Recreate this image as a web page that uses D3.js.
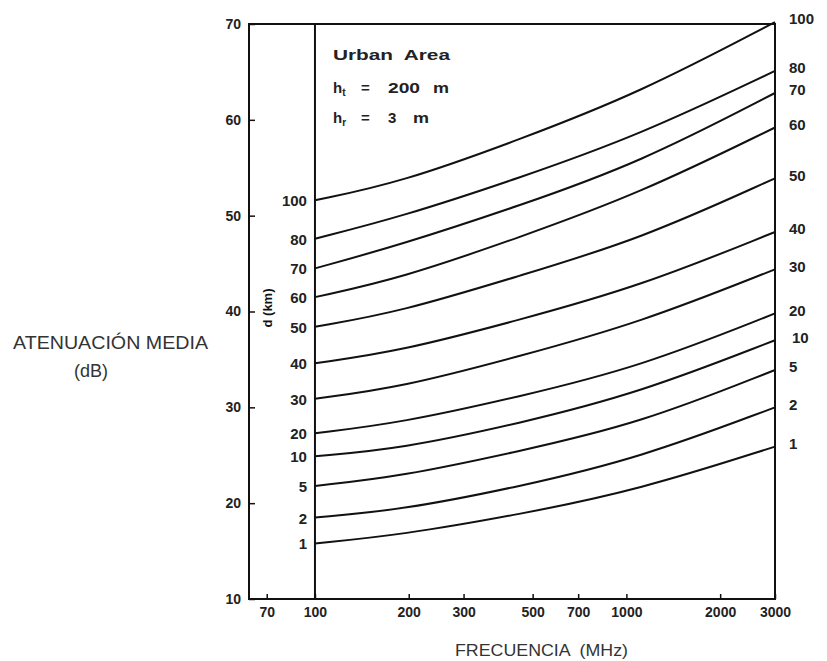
<!DOCTYPE html>
<html>
<head>
<meta charset="utf-8">
<script src="https://cdn.jsdelivr.net/npm/d3@7"></script>
<style>
  body { margin: 0; background: #fff; }
  text { font-family: "Liberation Sans", Arial, sans-serif; }
</style>
</head>
<body>
<div id="chart"></div>
<script>
//Frequencies (MHz) where the curves were read
var freqs = [100, 190, 450, 1100, 3000];

//Median attenuation (dB) for each distance d (km)
var att1 = [15.8, 16.7, 18.8, 21.4, 25.9];
var att2 = [18.5, 19.3, 21.7, 24.7, 30.0];
var att5 = [21.8, 22.8, 25.4, 28.3, 33.9];
var att10 = [24.9, 25.7, 28.3, 31.5, 37.0];
var att20 = [27.3, 28.4, 31.1, 34.2, 39.8];
var att30 = [30.9, 32.1, 35.3, 38.8, 44.4];
var att40 = [34.6, 35.9, 39.1, 42.6, 48.3];
var att50 = [38.4, 40.0, 43.7, 47.5, 53.9];
var att60 = [41.5, 43.5, 47.7, 52.3, 59.2];
var att70 = [44.5, 47.0, 51.0, 55.5, 62.8];
var att80 = [47.6, 49.9, 53.9, 58.4, 65.1];
var att100 = [51.6, 53.5, 57.9, 62.8, 70.2];

var distLabels = ["1", "2", "5", "10", "20", "30", "40", "50", "60", "70", "80", "100"];
var allSeries = [att1, att2, att5, att10, att20, att30, att40, att50, att60, att70, att80, att100];

//Axis ticks
var xTicks = [70, 100, 200, 300, 500, 700, 1000, 2000, 3000];
var yTicks = [10, 20, 30, 40, 50, 60, 70];

var svgWidth = 827;
var svgHeight = 661;

var svg = d3.select("#chart")
  .append("svg")
  .attr("width", svgWidth)
  .attr("height", svgHeight);

//Scales (log frequency, linear dB)
var x = d3.scaleLog().domain([61.4, 3000]).range([249, 775]);
var y = d3.scaleLinear().domain([10, 70]).range([599, 24]);

//Frame
svg.append("rect")
  .attr("x", x(61.4))
  .attr("y", y(70))
  .attr("width", x(3000) - x(61.4))
  .attr("height", y(10) - y(70))
  .attr("fill", "none")
  .attr("stroke", "#111")
  .attr("stroke-width", 2);

//Vertical line at 100 MHz
svg.append("line")
  .attr("x1", x(100)).attr("x2", x(100))
  .attr("y1", y(70)).attr("y2", y(10))
  .attr("stroke", "#111")
  .attr("stroke-width", 2);

//Y axis
var yAxis = svg.append("g")
  .attr("transform", `translate(${x(61.4)},0)`)
  .call(d3.axisLeft(y).tickValues(yTicks).tickSizeInner(-6).tickSizeOuter(0).tickPadding(8));

//X axis
var xAxis = svg.append("g")
  .attr("transform", `translate(0,${y(10)})`)
  .call(d3.axisBottom(x).tickValues(xTicks).tickFormat(d3.format("d")).tickSizeInner(-5).tickSizeOuter(0).tickPadding(8));

svg.selectAll(".domain").remove();
svg.selectAll(".tick line").attr("stroke", "#111").attr("stroke-width", 1.5);
svg.selectAll(".tick text")
  .attr("font-family", "Liberation Sans, Arial, sans-serif")
  .attr("font-size", 14)
  .attr("font-weight", "bold")
  .attr("fill", "#222");

//Curves
var line = d3.line()
  .x((d, i) => x(freqs[i]))
  .y(d => y(d))
  .curve(d3.curveBasis);

svg.append("g").selectAll("path")
  .data(allSeries)
  .enter()
  .append("path")
  .attr("d", d => line(d))
  .attr("fill", "none")
  .attr("stroke", "#111")
  .attr("stroke-width", 2);

//Distance labels at left of the curves
svg.append("g").selectAll("text")
  .data(allSeries)
  .enter()
  .append("text")
  .attr("x", x(100) - 8)
  .attr("y", d => y(d[0]))
  .attr("dy", "0.4em")
  .attr("text-anchor", "end")
  .attr("font-size", 15)
  .attr("font-weight", "bold")
  .attr("fill", "#222")
  .text((d, i) => distLabels[i]);

//Distance labels at right of the curves
svg.append("g").selectAll("text")
  .data(allSeries)
  .enter()
  .append("text")
  .attr("x", (d, i) => distLabels[i] === "10" ? x(3000) + 17 : x(3000) + 14)
  .attr("y", d => y(d[d.length - 1]) - 3)
  .attr("dy", "0.35em")
  .attr("font-size", 15)
  .attr("font-weight", "bold")
  .attr("fill", "#222")
  .text((d, i) => distLabels[i]);

//d (km) label
svg.append("text")
  .attr("transform", `translate(${x(100) - 43},308) rotate(-90)`)
  .attr("text-anchor", "middle")
  .attr("font-size", 13)
  .attr("font-weight", "bold")
  .attr("fill", "#111")
  .text("d (km)");

//Legend text
var legend = svg.append("g")
  .attr("font-size", 15)
  .attr("font-weight", "bold")
  .attr("fill", "#222")
  .attr("lengthAdjust", "spacingAndGlyphs");

legend.append("text")
  .attr("x", 333).attr("y", 60)
  .attr("textLength", 117)
  .attr("lengthAdjust", "spacingAndGlyphs")
  .style("white-space", "pre")
  .text("Urban  Area");

//h_t = 200 m
var ht = legend.append("text").attr("x", 333).attr("y", 93);
ht.append("tspan").text("h");
ht.append("tspan").attr("font-size", 10).attr("dy", 3).text("t");
legend.append("text").attr("x", 361).attr("y", 93).text("=");
legend.append("text").attr("x", 388).attr("y", 93)
  .attr("textLength", 32).attr("lengthAdjust", "spacingAndGlyphs").text("200");
legend.append("text").attr("x", 433).attr("y", 93)
  .attr("textLength", 16).attr("lengthAdjust", "spacingAndGlyphs").text("m");

//h_r = 3 m
var hr = legend.append("text").attr("x", 333).attr("y", 123);
hr.append("tspan").text("h");
hr.append("tspan").attr("font-size", 10).attr("dy", 3).text("r");
legend.append("text").attr("x", 361).attr("y", 123).text("=");
legend.append("text").attr("x", 388).attr("y", 123).text("3");
legend.append("text").attr("x", 413).attr("y", 123)
  .attr("textLength", 16).attr("lengthAdjust", "spacingAndGlyphs").text("m");

//Axis titles
svg.append("text")
  .attr("x", 13).attr("y", 349)
  .attr("font-size", 18)
  .attr("fill", "#333")
  .attr("textLength", 195)
  .attr("lengthAdjust", "spacingAndGlyphs")
  .text("ATENUACIÓN MEDIA");

svg.append("text")
  .attr("x", 91).attr("y", 377)
  .attr("text-anchor", "middle")
  .attr("font-size", 18)
  .attr("fill", "#333")
  .text("(dB)");

svg.append("text")
  .attr("x", 455).attr("y", 656)
  .attr("font-size", 17)
  .attr("fill", "#333")
  .attr("textLength", 173)
  .attr("lengthAdjust", "spacingAndGlyphs")
  .style("white-space", "pre")
  .text("FRECUENCIA  (MHz)");
</script>
</body>
</html>
